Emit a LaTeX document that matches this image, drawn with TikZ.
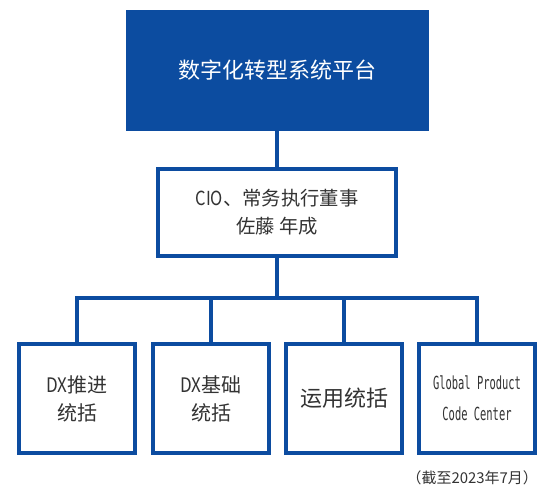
\documentclass[tikz,border=0pt]{standalone}
\usepackage{fontspec}
\setmainfont{Noto Sans CJK SC}
\newfontfamily\monofam{DejaVu Sans Mono}
\newcommand\narrowtxt[2][0.8]{\scalebox{#1}[1]{#2}}
\definecolor{dxblue}{HTML}{0C4CA0}
\definecolor{txtgray}{HTML}{333333}
\begin{document}
\begin{tikzpicture}[x=0.75pt,y=-0.75pt,
  boxline/.style={draw=dxblue,line width=2.4pt},
  orgbox/.style={boxline,fill=white,text=txtgray,align=center,inner sep=0pt},
  conn/.style={draw=dxblue,line width=2.4pt}]
\useasboundingbox (0,0) rectangle (541,489);
% top
\node[fill=dxblue,draw=dxblue,minimum width=302*0.75pt,minimum height=120*0.75pt,inner sep=0pt,
  text=white,font=\fontsize{16.5}{20}\selectfont] (top) at (277,70) {数字化转型系统平台};
% middle
\node[orgbox,minimum width=238*0.75pt,minimum height=87*0.75pt,
  font=\fontsize{14.5}{21}\selectfont] (mid) at (277,212.5)
  {\narrowtxt[0.85]{CIO}、常务执行董事\\佐藤 年成};
% bottom
\tikzset{bot/.style={orgbox,minimum width=116*0.75pt,minimum height=109*0.75pt}}
\node[bot,font=\fontsize{15}{21}\selectfont] (b1) at (77,398.5) {\narrowtxt[0.85]{DX}推进\\统括};
\node[bot,font=\fontsize{15}{21}\selectfont] (b2) at (211,398.5) {\narrowtxt[0.85]{DX}基础\\统括};
\node[bot,font=\fontsize{16.5}{21}\selectfont] (b3) at (344,398.5) {运用统括};
\node[bot,font=\monofam\fontsize{13.5}{23}\selectfont] (b4) at (477,398.5)
  {\narrowtxt[0.58]{Global Product}\\\narrowtxt[0.58]{Code Center}};
% connectors
\coordinate (bar) at (277,298);
\draw[conn] (top.south) -- (mid.north);
\draw[conn] (mid.south) -- (bar);
\draw[conn] (b1.north) |- (bar) -| (b4.north);
\draw[conn] (b2.north) -- (b2.north |- bar);
\draw[conn] (b3.north) -- (b3.north |- bar);
% note
\node[anchor=east,text=txtgray,font=\fontsize{11.2}{12}\selectfont,inner sep=0pt] (note) at (538,478) {（截至2023年7月）};
\end{tikzpicture}
\end{document}
